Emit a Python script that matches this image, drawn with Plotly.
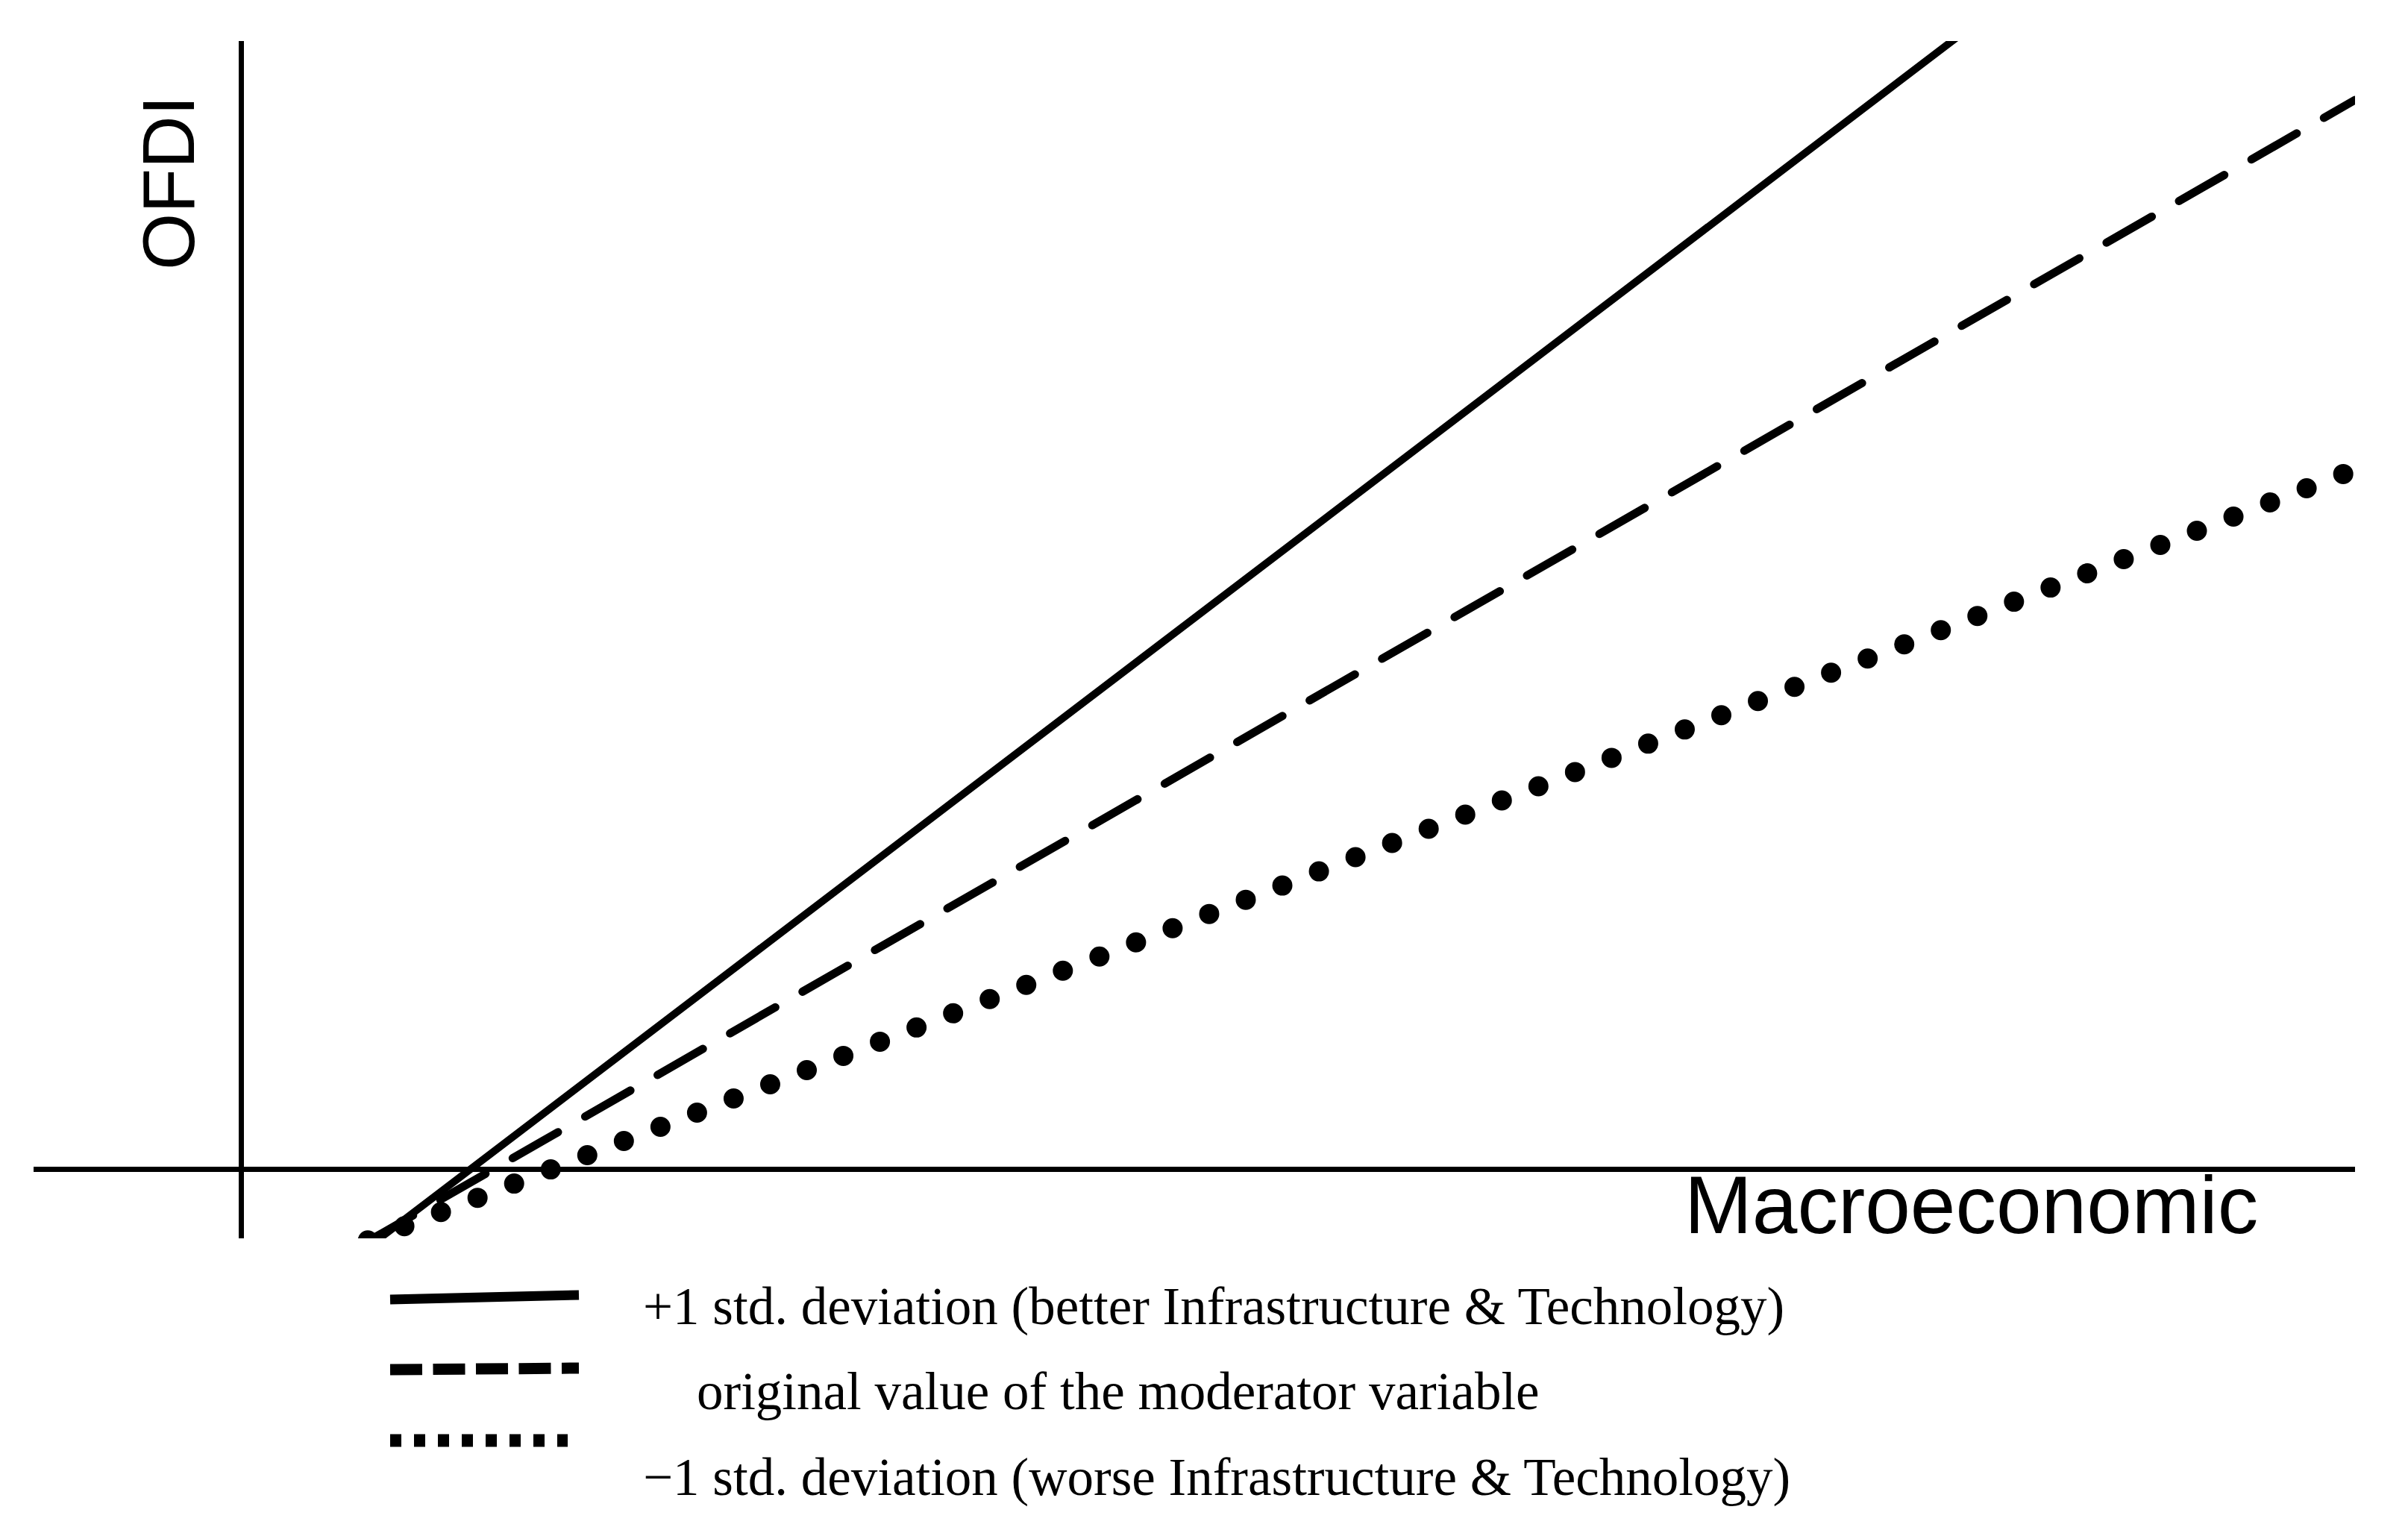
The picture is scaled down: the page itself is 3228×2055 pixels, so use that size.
import plotly.graph_objects as go

# values (arbitrary units, origin where the two axes cross)
macro = [0.6, 10.0]
ofdi_high = [-0.695, 12.72]   # +1 std. deviation
ofdi_mean = [-0.642, 9.478]   # original value of the moderator
ofdi_low = [-0.633, 6.202]    # -1 std. deviation

legend_labels = [
    "+1 std. deviation (better Infrastructure &amp; Technology)",
    "original value of the moderator variable",
    "\u22121 std. deviation (worse Infrastructure &amp; Technology)",
]

W, H = 3228, 2055
OFF = 8  # default body margin of the html page
L, T = 45 - OFF, 55 - OFF
PW, PH = 3112, 1605
R, B = W - L - PW, H - T - PH


# pixel position on the page -> paper coordinates
def px(x):
    return (x - OFF - L) / PW


def py(y):
    return (T + PH - (y - OFF)) / PH


fig = go.Figure()
fig.add_trace(go.Scatter(x=macro, y=ofdi_high, mode="lines",
                         line=dict(color="black", width=10)))
fig.add_trace(go.Scatter(x=macro, y=ofdi_mean, mode="lines",
                         line=dict(color="black", width=11, dash="70px,42px")))
fig.add_trace(go.Scatter(x=macro, y=ofdi_low, mode="lines",
                         line=dict(color="black", width=27, dash="0px,52.6px")))

# legend samples drawn by hand below the plot
samples = [
    (523, 1742, 776, 1736, 13, "solid"),
    (523, 1836, 776, 1834, 15, "43px,14.5px"),
    (523, 1931, 761, 1931, 17, "15px,17px"),
]
for x0, y0, x1, y1, w, d in samples:
    fig.add_shape(type="line", xref="paper", yref="paper",
                  x0=px(x0), y0=py(y0), x1=px(x1), y1=py(y1),
                  line=dict(color="black", width=w, dash=d))

serif = dict(family="Liberation Serif, Times New Roman, serif", size=71, color="black")
for (x, base), text in zip([(860, 1773), (932, 1887), (860, 2002)], legend_labels):
    fig.add_annotation(text=text, xref="paper", yref="paper", x=px(x), y=py(base - 22),
                       xanchor="left", yanchor="middle", showarrow=False, font=serif)

sans = dict(family="Liberation Sans, Arial, sans-serif", color="black")
fig.add_annotation(text="Macroeconomic", xref="paper", yref="paper",
                   x=px(2256), y=py(1615), xanchor="left", yanchor="middle",
                   showarrow=False, font=dict(sans, size=109))
fig.add_annotation(text="OFDI", xref="paper", yref="paper", textangle=-90,
                   x=px(226), y=py(245), xanchor="center", yanchor="middle",
                   showarrow=False, font=dict(sans, size=98))

fig.update_xaxes(range=[-0.981, 10.0], showgrid=False, showticklabels=False, ticks="",
                 zeroline=True, zerolinecolor="black", zerolinewidth=7)
fig.update_yaxes(range=[-0.615, 10.0], showgrid=False, showticklabels=False, ticks="",
                 zeroline=True, zerolinecolor="black", zerolinewidth=7)
fig.update_layout(width=W, height=H, margin=dict(l=L, r=R, t=T, b=B),
                  showlegend=False, plot_bgcolor="white", paper_bgcolor="white")

# round line caps so the dotted line becomes real dots
js = """
var gd = document.getElementById('{plot_id}');
gd.querySelectorAll('.scatterlayer path.js-line').forEach(function (p) {
    p.style.strokeLinecap = 'round';
});
"""
fig.write_html("out.html", post_script=js)
